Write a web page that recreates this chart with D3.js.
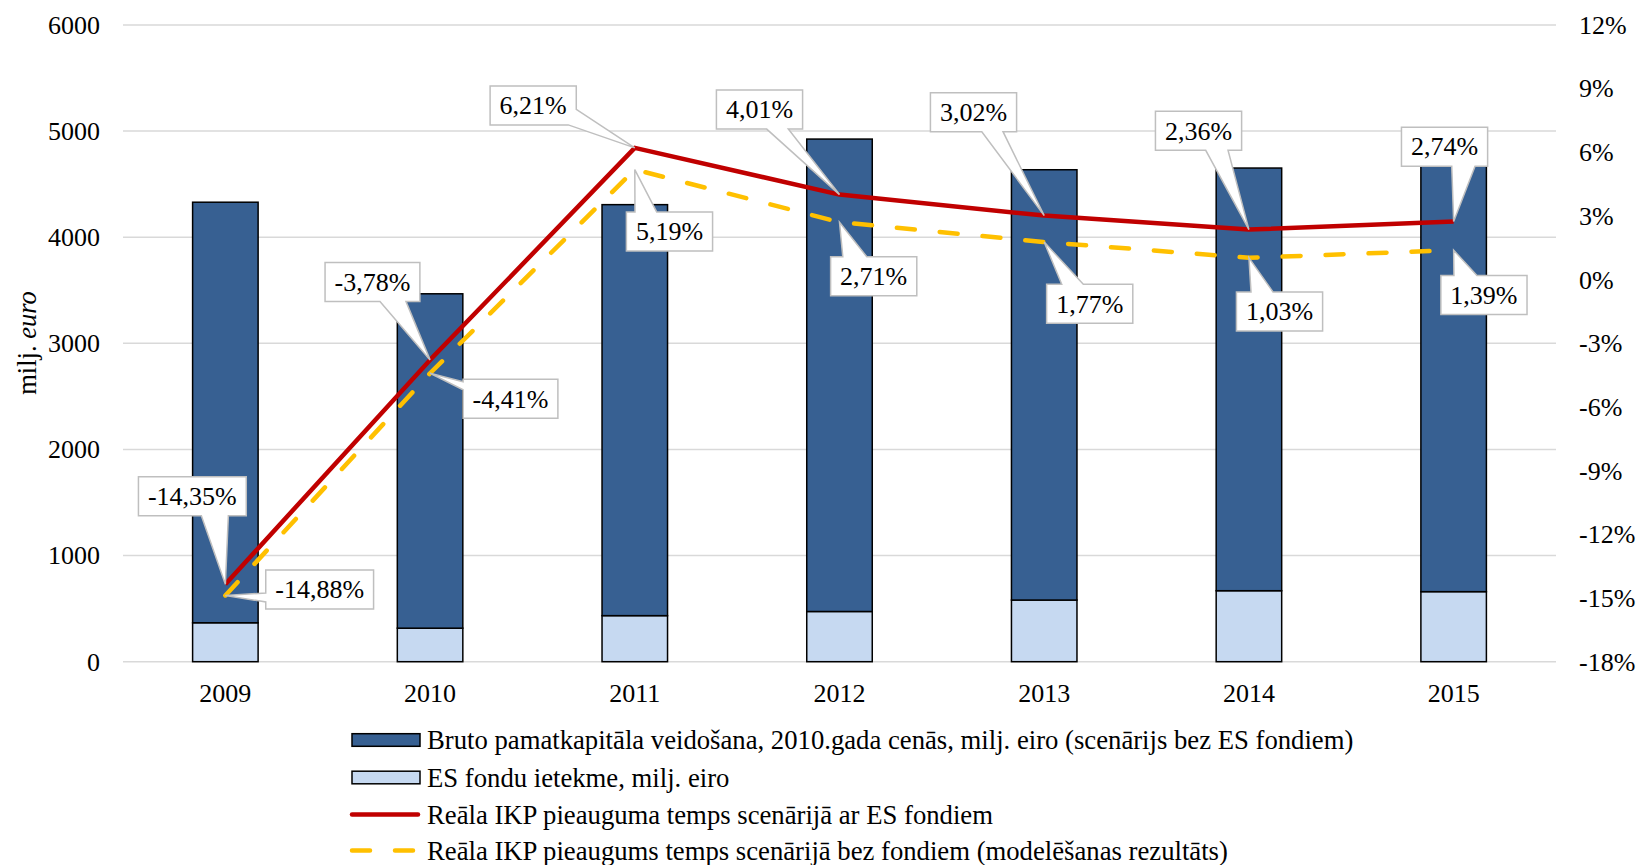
<!DOCTYPE html>
<html>
<head>
<meta charset="utf-8">
<script src="https://cdn.jsdelivr.net/npm/d3@7"></script>
<style>
  body { margin: 0; background: #fff; }
  text { font-family: "Liberation Serif", "Times New Roman", serif; fill: #000; }
</style>
</head>
<body>
<svg class="chart"></svg>
<script>
// values
const years = ['2009', '2010', '2011', '2012', '2013', '2014', '2015'];
const bruto = [3963, 3151, 3873, 4452, 4055, 3983, 4040];
const esFondi = [367, 316, 434, 473, 581, 669, 660];
const growthWith = [-14.35, -3.78, 6.21, 4.01, 3.02, 2.36, 2.74];
const growthWithout = [-14.88, -4.41, 5.19, 2.71, 1.77, 1.03, 1.39];
const leftTicks = [0, 1000, 2000, 3000, 4000, 5000, 6000];
const rightTicks = [-18, -15, -12, -9, -6, -3, 0, 3, 6, 9, 12];
const legendLabels = [
  'Bruto pamatkapitāla veidošana, 2010.gada cenās, milj. eiro (scenārijs bez ES fondiem)',
  'ES fondu ietekme, milj. eiro',
  'Reāla IKP pieauguma temps scenārijā ar ES fondiem',
  'Reāla IKP pieaugums temps scenārijā bez fondiem (modelēšanas rezultāts)'
];

// callout placement: box centre offset from its point, side of the pointer, pointer base
const placeWith = [
  {dx: -33, dy: -88, side: 'bottom', b0: 9, b1: 36},
  {dx: -57.6, dy: -78, side: 'bottom', b0: 7.5, b1: 33.5},
  {dx: -101.6, dy: -42.5, side: 'corner', b0: 3.9, b1: 35.1},
  {dx: -80, dy: -85, side: 'bottom', b0: 7.2, b1: 28.8},
  {dx: -70.7, dy: -103.4, side: 'bottom', b0: 8.3, b1: 29.5},
  {dx: -50.4, dy: -98.8, side: 'bottom', b0: 7.2, b1: 29.5},
  {dx: -9.1, dy: -74.9, side: 'bottom', b0: 7.2, b1: 30.5}
];
const placeWithout = [
  {dx: 94.3, dy: -6, side: 'left', b0: 3.5, b1: 12.5},
  {dx: 80.4, dy: 25.5, side: 'left', b0: -17, b1: -9},
  {dx: 34.7, dy: 61.9, side: 'top', b0: -34.5, b1: -12.8},
  {dx: 34.2, dy: 54.1, side: 'top', b0: -30.9, b1: -6.9},
  {dx: 45.5, dy: 61.7, side: 'top', b0: -28, b1: -6.4},
  {dx: 30.6, dy: 53.7, side: 'top', b0: -28.5, b1: -6.5},
  {dx: 30.3, dy: 44.8, side: 'top', b0: -30, b1: -7}
];

const width = 1636, height = 865;
const plotLeft = 123, plotRight = 1556, plotTop = 25, plotBottom = 661.7;
const fontSize = 26;

const svg = d3.select('.chart')
  .attr('width', width)
  .attr('height', height);

const x = d3.scaleBand().domain(years).range([plotLeft, plotRight])
  .paddingInner(0.68).paddingOuter(0.34);
const yL = d3.scaleLinear().domain([0, 6000]).range([plotBottom, plotTop]);
const yR = d3.scaleLinear().domain([-18, 12]).range([plotBottom, plotTop]);
const cx = d => x(d) + x.bandwidth() / 2;

// gridlines
svg.append('g').selectAll('line').data(leftTicks)
  .enter().append('line')
  .attr('x1', plotLeft).attr('x2', plotRight)
  .attr('y1', d => yL(d)).attr('y2', d => yL(d))
  .attr('stroke', '#d9d9d9').attr('stroke-width', 1.5);

// stacked bars
const table = years.map((y, i) => ({year: y, es: esFondi[i], bruto: bruto[i]}));
const stack = d3.stack().keys(['es', 'bruto'])(table);
const barColor = {es: '#c6d9f1', bruto: '#376092'};

svg.append('g').selectAll('g').data(stack)
  .enter().append('g')
  .attr('fill', d => barColor[d.key])
  .selectAll('rect').data(d => d)
  .enter().append('rect')
  .attr('x', d => x(d.data.year))
  .attr('width', x.bandwidth())
  .attr('y', d => yL(d[1]))
  .attr('height', d => yL(d[0]) - yL(d[1]))
  .attr('stroke', '#000').attr('stroke-width', 1.5);

// lines
const line = d3.line().x((d, i) => cx(years[i])).y(d => yR(d));

svg.append('path')
  .attr('d', line(growthWithout))
  .attr('fill', 'none')
  .attr('stroke', '#ffc000').attr('stroke-width', 4.5)
  .attr('stroke-dasharray', '18,25').attr('stroke-linecap', 'round');

svg.append('path')
  .attr('d', line(growthWith))
  .attr('fill', 'none')
  .attr('stroke', '#c00000').attr('stroke-width', 4.5)
  .attr('stroke-linejoin', 'round');

// callout labels
const fmt = v => v.toFixed(2).replace('.', ',') + '%';

function callout(values, places) {
  values.forEach((v, i) => {
    const p = places[i];
    const px = cx(years[i]), py = yR(v);
    const bx = px + p.dx, by = py + p.dy;
    const g = svg.append('g');
    const shape = g.append('path');
    const t = g.append('text')
      .attr('x', bx).attr('y', by).attr('dy', '0.34em')
      .attr('text-anchor', 'middle')
      .attr('font-size', fontSize)
      .text(fmt(v));
    const w = t.node().getComputedTextLength() + 19, h = 39;
    const x0 = bx - w / 2, x1 = bx + w / 2, y0 = by - h / 2, y1 = by + h / 2;
    const tip = [px, py];
    let pts;
    if (p.side === 'bottom') {
      pts = [[x0, y0], [x1, y0], [x1, y1], [bx + p.b1, y1], tip, [bx + p.b0, y1], [x0, y1]];
    } else if (p.side === 'top') {
      pts = [[x0, y0], [bx + p.b0, y0], tip, [bx + p.b1, y0], [x1, y0], [x1, y1], [x0, y1]];
    } else if (p.side === 'left') {
      pts = [[x0, y0], [x1, y0], [x1, y1], [x0, y1], [x0, by + p.b1], tip, [x0, by + p.b0]];
    } else {
      pts = [[x0, y0], [x1, y0], [x1, by + p.b0], tip, [bx + p.b1, y1], [x0, y1]];
    }
    shape.attr('d', 'M' + pts.join('L') + 'Z')
      .attr('fill', '#fff')
      .attr('stroke', '#bfbfbf').attr('stroke-width', 1.5)
      .attr('stroke-linejoin', 'miter');
  });
}
callout(growthWith, placeWith);
callout(growthWithout, placeWithout);

// axes
const leftAxis = svg.append('g')
  .attr('transform', `translate(${plotLeft},0)`)
  .call(d3.axisLeft(yL).tickValues(leftTicks).tickSize(0).tickPadding(23)
    .tickFormat(d3.format('d')));
const rightAxis = svg.append('g')
  .attr('transform', `translate(${plotRight},0)`)
  .call(d3.axisRight(yR).tickValues(rightTicks).tickSize(0).tickPadding(23)
    .tickFormat(d => d + '%'));
const xAxis = svg.append('g')
  .attr('transform', `translate(0,${plotBottom})`)
  .call(d3.axisBottom(x).tickSize(0).tickPadding(22));

[leftAxis, rightAxis, xAxis].forEach(a => {
  a.select('.domain').remove();
  a.attr('font-family', null);
  a.selectAll('text')
    .style('font-family', '"Liberation Serif", "Times New Roman", serif')
    .attr('font-size', fontSize).attr('fill', '#000');
});

// y axis title
const title = svg.append('text')
  .attr('transform', 'translate(36,343) rotate(-90)')
  .attr('text-anchor', 'middle')
  .attr('font-size', 26.5);
title.append('tspan').text('milj. ');
title.append('tspan').attr('font-style', 'italic').text('euro');

// legend
const legendY = [740, 777.5, 814.5, 850.5];
const legend = svg.append('g');
legendLabels.forEach((label, i) => {
  const y = legendY[i];
  if (i < 2) {
    legend.append('rect')
      .attr('x', 352).attr('y', y - 6.3).attr('width', 68).attr('height', 12.6)
      .attr('fill', i === 0 ? barColor.bruto : barColor.es)
      .attr('stroke', '#000').attr('stroke-width', 1.5);
  } else {
    legend.append('line')
      .attr('x1', 352).attr('x2', 418).attr('y1', y).attr('y2', y)
      .attr('stroke', i === 2 ? '#c00000' : '#ffc000')
      .attr('stroke-width', 4.5)
      .attr('stroke-linecap', 'round')
      .attr('stroke-dasharray', i === 2 ? null : '18,25');
  }
  legend.append('text')
    .attr('x', 427).attr('y', y).attr('dy', '0.34em')
    .attr('font-size', 26.7)
    .text(label);
});
</script>
</body>
</html>
